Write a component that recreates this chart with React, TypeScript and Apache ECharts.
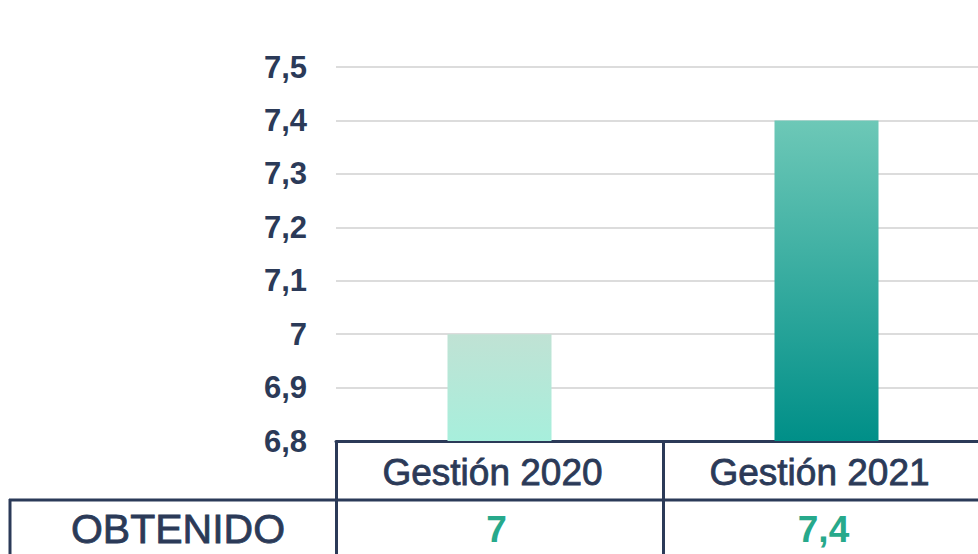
import React, { useEffect, useRef } from "react";
import * as echarts from "echarts";

const categories: string[] = ["Gestión 2020", "Gestión 2021"];
const obtenido: number[] = [7, 7.4];
const rowLabel = "OBTENIDO";
const yMin = 6.8;
const yMax = 7.5;
const yStep = 0.1;

const NAVY = "#2b3a58";
const TEAL_TEXT = "#27a98b";
const FONT = "'Liberation Sans', Arial, sans-serif";

const fmt = (v: number) => (Math.round(v * 10) / 10).toString().replace(".", ",");

const barColors = [
  ["#c0e2d4", "#a7efdc"],
  ["#6dc8b7", "#008f88"],
];

export default function App() {
  const ref = useRef<HTMLDivElement>(null);
  useEffect(() => {
    if (!ref.current) return;
    const chart = echarts.init(ref.current, null, { renderer: "svg" });
    chart.setOption({
      animation: false,
      backgroundColor: "#ffffff",
      grid: {
        left: 336,
        top: 67,
        width: 654,
        height: 374,
        containLabel: false,
        outerBoundsMode: "none",
      },
      xAxis: [
        {
          type: "category",
          data: categories,
          position: "bottom",
          axisLine: { show: true, lineStyle: { color: NAVY, width: 3 } },
          axisTick: { show: true, length: 116, lineStyle: { color: NAVY, width: 3 } },
          axisLabel: {
            color: NAVY,
            fontSize: 37,
            fontFamily: FONT,
            margin: 13,
            padding: [0, 14, 0, 0],
            textBorderColor: NAVY,
            textBorderWidth: 0.8,
          },
        },
        {
          type: "category",
          data: obtenido.map(fmt),
          position: "bottom",
          axisLine: { show: false },
          axisTick: { show: false },
          axisLabel: {
            color: TEAL_TEXT,
            fontSize: 37,
            fontWeight: "bold",
            fontFamily: FONT,
            margin: 70,
            padding: [0, 6, 0, 0],
          },
        },
      ],
      yAxis: {
        type: "value",
        min: yMin,
        max: yMax,
        interval: yStep,
        axisLine: { show: false },
        axisTick: { show: false },
        axisLabel: {
          color: NAVY,
          fontSize: 31,
          fontWeight: "bold",
          fontFamily: FONT,
          margin: 29,
          formatter: (v: number) => fmt(v),
        },
        splitLine: { show: true, lineStyle: { color: "#dcdcdc", width: 2 } },
      },
      series: [
        {
          type: "bar",
          xAxisIndex: 0,
          barWidth: 104,
          data: obtenido.map((v, i) => ({
            value: v,
            itemStyle: {
              color: new echarts.graphic.LinearGradient(0, 0, 0, 1, [
                { offset: 0, color: barColors[i][0] },
                { offset: 1, color: barColors[i][1] },
              ]),
            },
          })),
          z: 1,
        },
      ],
      graphic: [
        {
          type: "line",
          shape: { x1: 9, y1: 500, x2: 978, y2: 500 },
          style: { stroke: NAVY, lineWidth: 3 },
          z: 10,
        },
        {
          type: "line",
          shape: { x1: 10, y1: 499, x2: 10, y2: 554 },
          style: { stroke: NAVY, lineWidth: 3 },
          z: 10,
        },
        {
          type: "text",
          x: 178,
          y: 529,
          style: {
            text: rowLabel,
            fill: NAVY,
            stroke: NAVY,
            lineWidth: 0.8,
            fontSize: 41,
            fontFamily: FONT,
            textAlign: "center",
            textVerticalAlign: "middle",
          },
          z: 10,
        },
      ],
    });
    return () => chart.dispose();
  }, []);
  return (
    <div
      ref={ref}
      style={{ position: "absolute", left: 0, top: 0, width: 978, height: 554 }}
    />
  );
}
